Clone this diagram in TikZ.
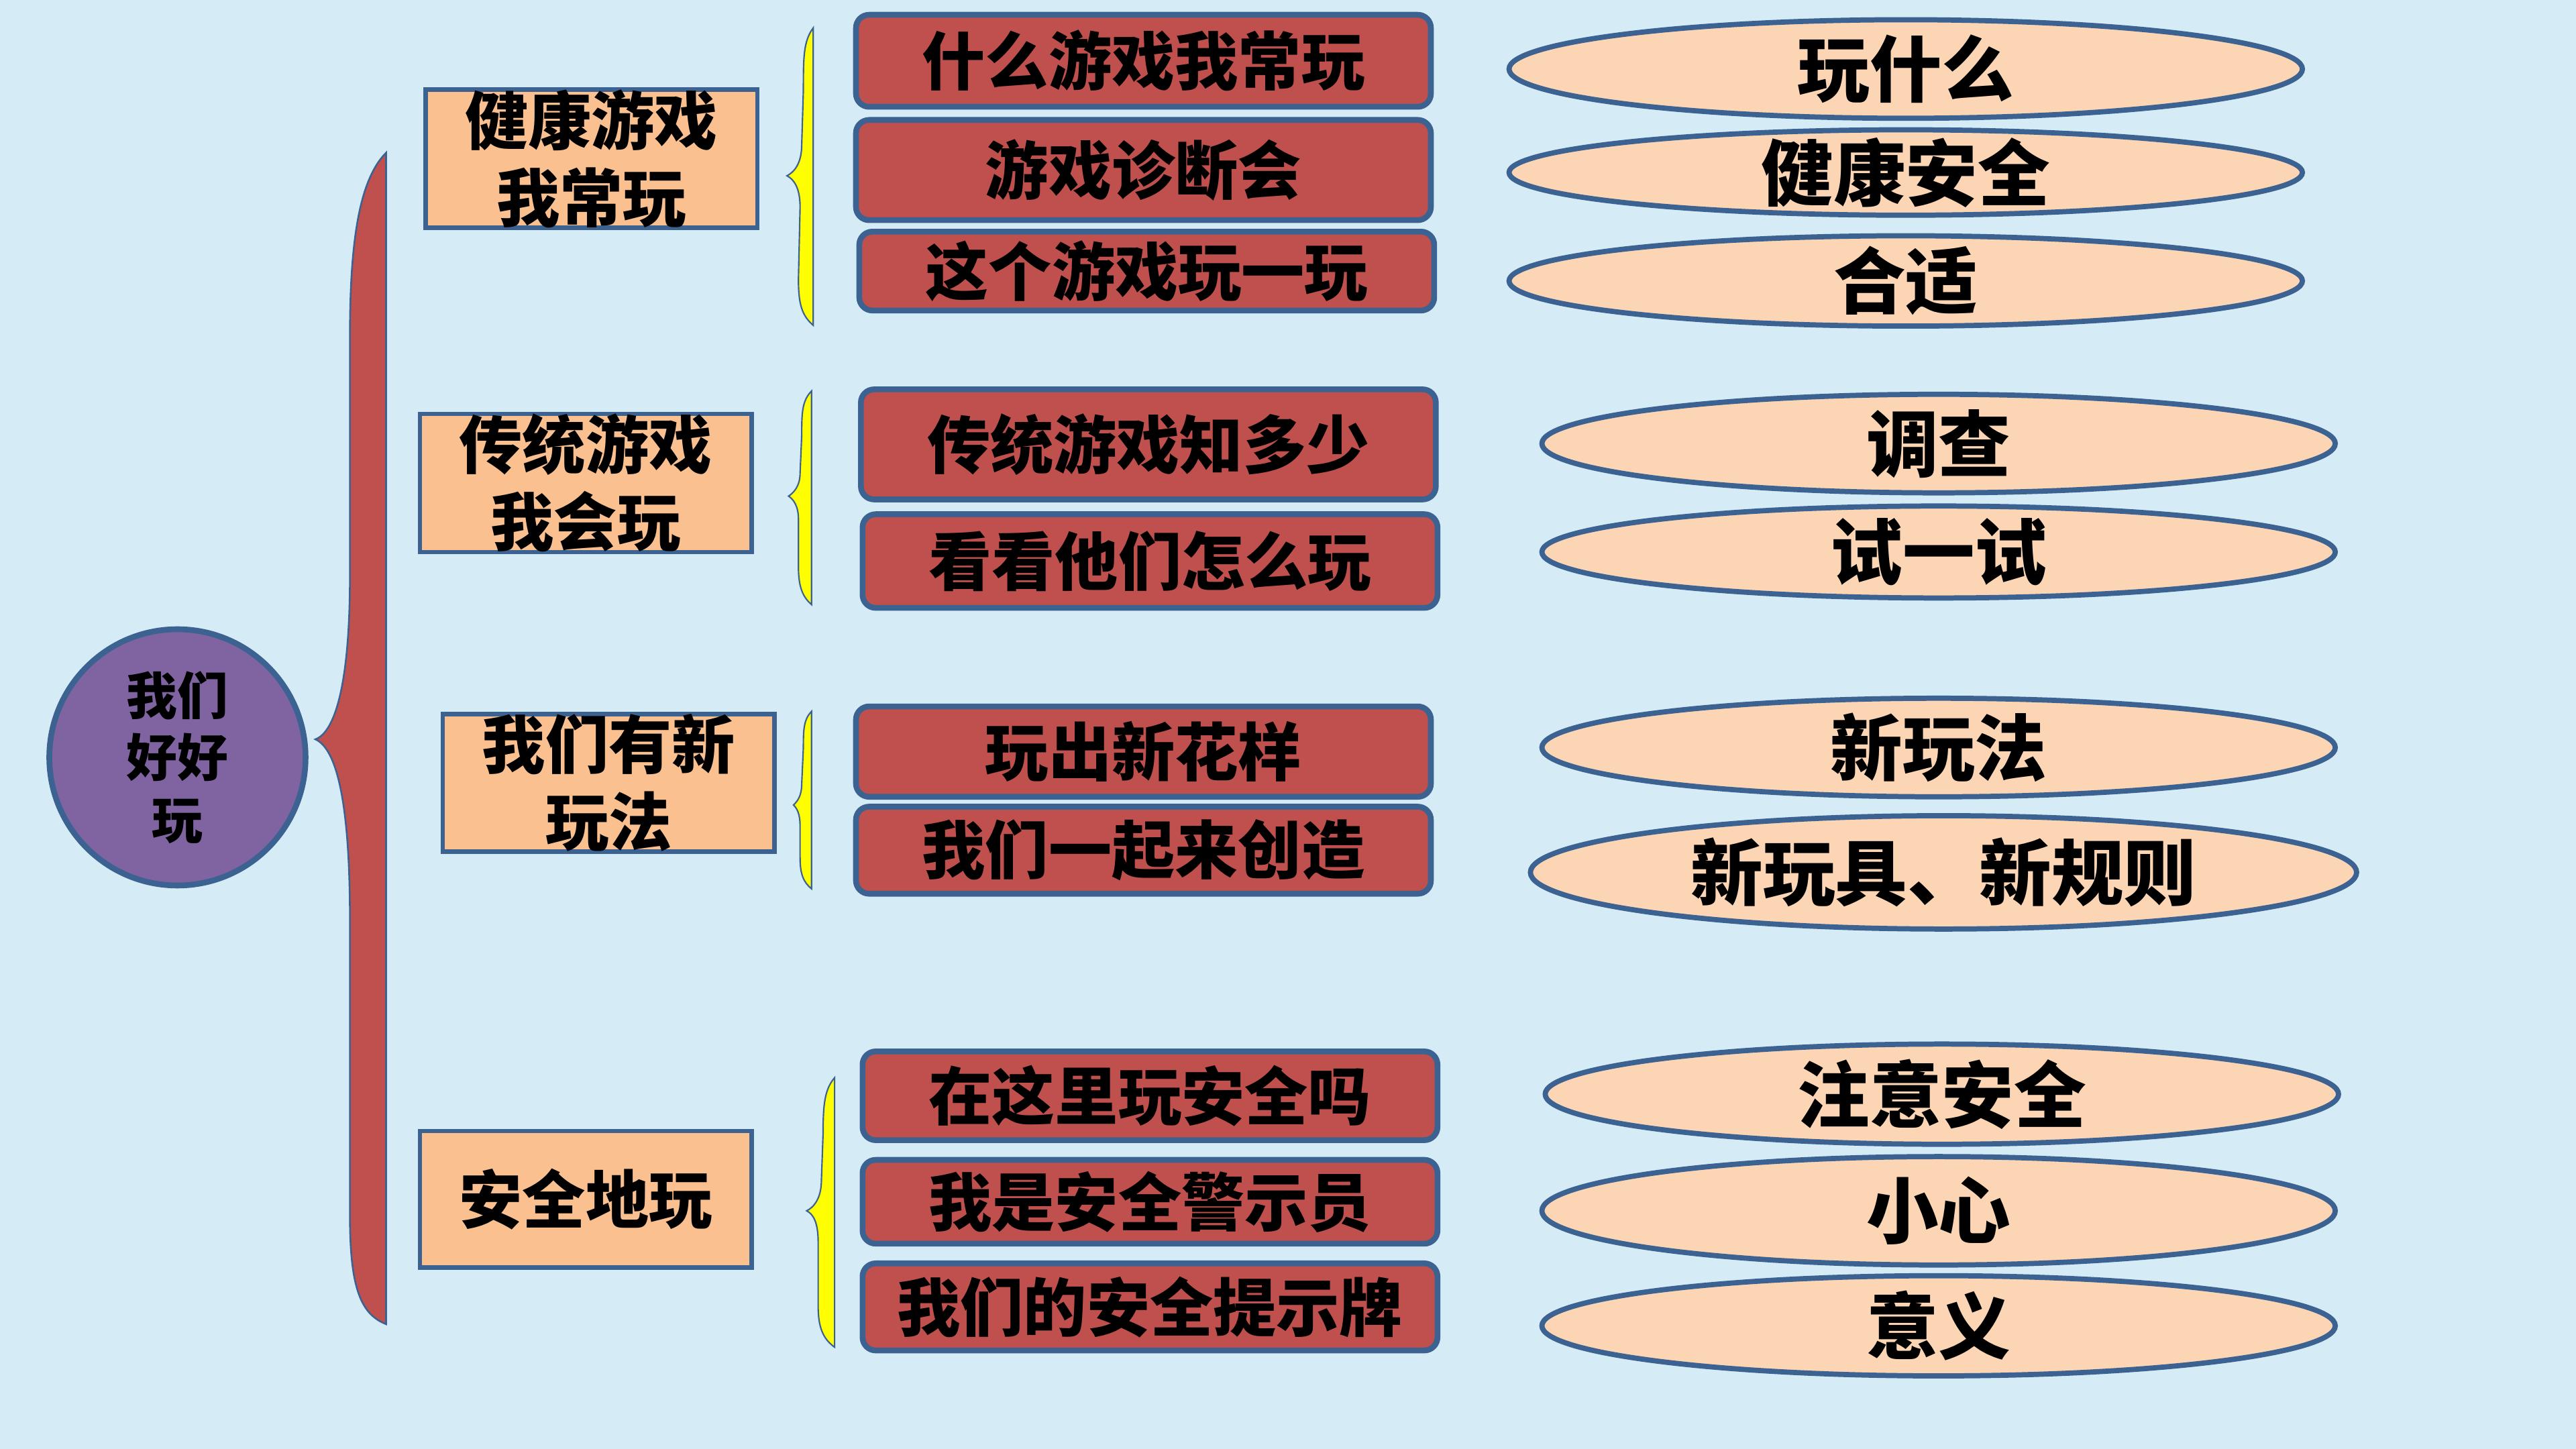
\documentclass[tikz,border=0pt]{standalone}
\usepackage{fontspec}
\newfontfamily\cjk{Noto Sans CJK SC}
\usetikzlibrary{shapes.geometric}
\definecolor{bg}{RGB}{213,236,247}
\definecolor{bordblue}{RGB}{60,98,145}
\definecolor{redfill}{RGB}{192,80,77}
\definecolor{peach}{RGB}{250,192,144}
\definecolor{lightpeach}{RGB}{252,213,181}
\definecolor{purplefill}{RGB}{128,100,162}
\definecolor{braceyellow}{RGB}{255,255,0}
\begin{document}
\begin{tikzpicture}[x=0.02cm,y=-0.02cm,
  catbox/.style={draw=bordblue, line width=1.5pt, fill=peach, minimum width=4.04cm, minimum height=1.66cm, inner sep=0pt, align=center, font=\fontsize{21.9}{26.7}\selectfont\cjk\bfseries},
  topicbox/.style={draw=bordblue, line width=2pt, fill=redfill, rounded corners=0.16cm, minimum width=7cm, inner sep=0pt, font=\fontsize{21.9}{26.7}\selectfont\cjk\bfseries},
  leaf/.style={ellipse, draw=bordblue, line width=1.8pt, fill=lightpeach, minimum width=9.66cm, inner sep=0pt},
  leaftext/.style={inner sep=0pt, font=\fontsize{25}{30}\selectfont\cjk\bfseries},
  bigbrace/.style={fill=redfill, draw=bordblue, line width=0.6pt},
  smallbrace/.style={fill=braceyellow, draw=bordblue, line width=0.5pt}]
\fill[bg] (0,0) rectangle (1568,882);
\useasboundingbox (0,0) rectangle (1568,882);

% centre
\node[circle, draw=bordblue, line width=2pt, fill=purplefill, minimum size=3.12cm, inner sep=0pt, align=center, font=\fontsize{17.6}{21.5}\selectfont\cjk\bfseries] (root) at (108,461) {我们\\好好\\玩};

% big brace
\draw[bigbrace] (235,93) .. controls (218,110) and (213,150) .. (213,205) -- (213,350) .. controls (213,420) and (203,446) .. (192,450) .. controls (203,455) and (213,480) .. (213,560) -- (213,740) .. controls (213,785) and (220,800) .. (235,806) -- cycle;

% categories
\node[catbox] (c1) at (360,96.5) {健康游戏\\我常玩};
\node[catbox] (c2) at (356.5,294) {传统游戏\\我会玩};
\node[catbox] (c3) at (370.5,476.5) {我们有新\\玩法};
\node[catbox] (c4) at (356.5,730) {安全地玩};

% small braces
\draw[smallbrace] (495,17) .. controls (489,25) and (489,35) .. (489,55) -- (488,88) .. controls (488,100) and (483,105) .. (479,107) .. controls (483,109) and (487,114) .. (487,126) -- (486,170) .. controls (486,185) and (488,192) .. (495,198) -- cycle;
\draw[smallbrace] (494,238) .. controls (488,244) and (488,252) .. (488,265) -- (487,288) .. controls (487,296) and (483,300) .. (480,302) .. controls (483,304) and (486,308) .. (486,316) -- (486,345) .. controls (486,356) and (488,363) .. (494,368) -- cycle;
\draw[smallbrace] (494,433) .. controls (489,438) and (489,445) .. (489,455) -- (488,477) .. controls (488,485) and (485,488) .. (483,490) .. controls (485,492) and (487,495) .. (487,503) -- (487,522) .. controls (487,532) and (489,537) .. (494,541) -- cycle;
\draw[smallbrace] (508,656) .. controls (502,663) and (501,672) .. (501,690) -- (500,718) .. controls (500,730) and (495,735) .. (491,737) .. controls (495,739) and (498,744) .. (498,756) -- (498,795) .. controls (498,808) and (501,815) .. (508,820) -- cycle;

% topics
\node[topicbox, minimum height=1.12cm] (t11) at (696,37) {什么游戏我常玩};
\node[topicbox, minimum height=1.22cm] (t12) at (696,103.5) {游戏诊断会};
\node[topicbox, minimum height=0.96cm] (t13) at (698,165) {这个游戏玩一玩};
\node[topicbox, minimum height=1.34cm] (t21) at (699,270.5) {传统游戏知多少};
\node[topicbox, minimum height=1.14cm] (t22) at (700,341.5) {看看他们怎么玩};
\node[topicbox, minimum height=1.10cm] (t31) at (696,457.5) {玩出新花样};
\node[topicbox, minimum height=1.06cm] (t32) at (696,517.5) {我们一起来创造};
\node[topicbox, minimum height=1.08cm] (t41) at (700,667) {在这里玩安全吗};
\node[topicbox, minimum height=1.02cm] (t42) at (700,731.5) {我是安全警示员};
\node[topicbox, minimum height=1.06cm] (t43) at (700,795.5) {我们的安全提示牌};

% leaves
\node[leaf, minimum height=1.20cm] (l1) at (1160,42) {};
\node[leaftext] at (l1) {玩什么};
\node[leaf, minimum height=1.04cm] (l2) at (1160,105) {};
\node[leaftext] at (l2) {健康安全};
\node[leaf, minimum height=1.10cm] (l3) at (1160,171) {};
\node[leaftext] at (l3) {合适};
\node[leaf, minimum height=1.20cm] (l4) at (1180,270) {};
\node[leaftext] at (l4) {调查};
\node[leaf, minimum height=1.12cm] (l5) at (1180,336) {};
\node[leaftext] at (l5) {试一试};
\node[leaf, minimum height=1.20cm] (l6) at (1180,455) {};
\node[leaftext] at (l6) {新玩法};
\node[leaf, minimum height=1.38cm, minimum width=10.06cm] (l7) at (1183,531) {};
\node[leaftext] at (l7) {新玩具、新规则};
\node[leaf, minimum height=1.22cm] (l8) at (1182,666) {};
\node[leaftext] at (l8) {注意安全};
\node[leaf, minimum height=1.32cm] (l9) at (1180,737) {};
\node[leaftext] at (l9) {小心};
\node[leaf, minimum height=1.22cm] (l10) at (1180,807) {};
\node[leaftext] at (l10) {意义};
\end{tikzpicture}
\end{document}
